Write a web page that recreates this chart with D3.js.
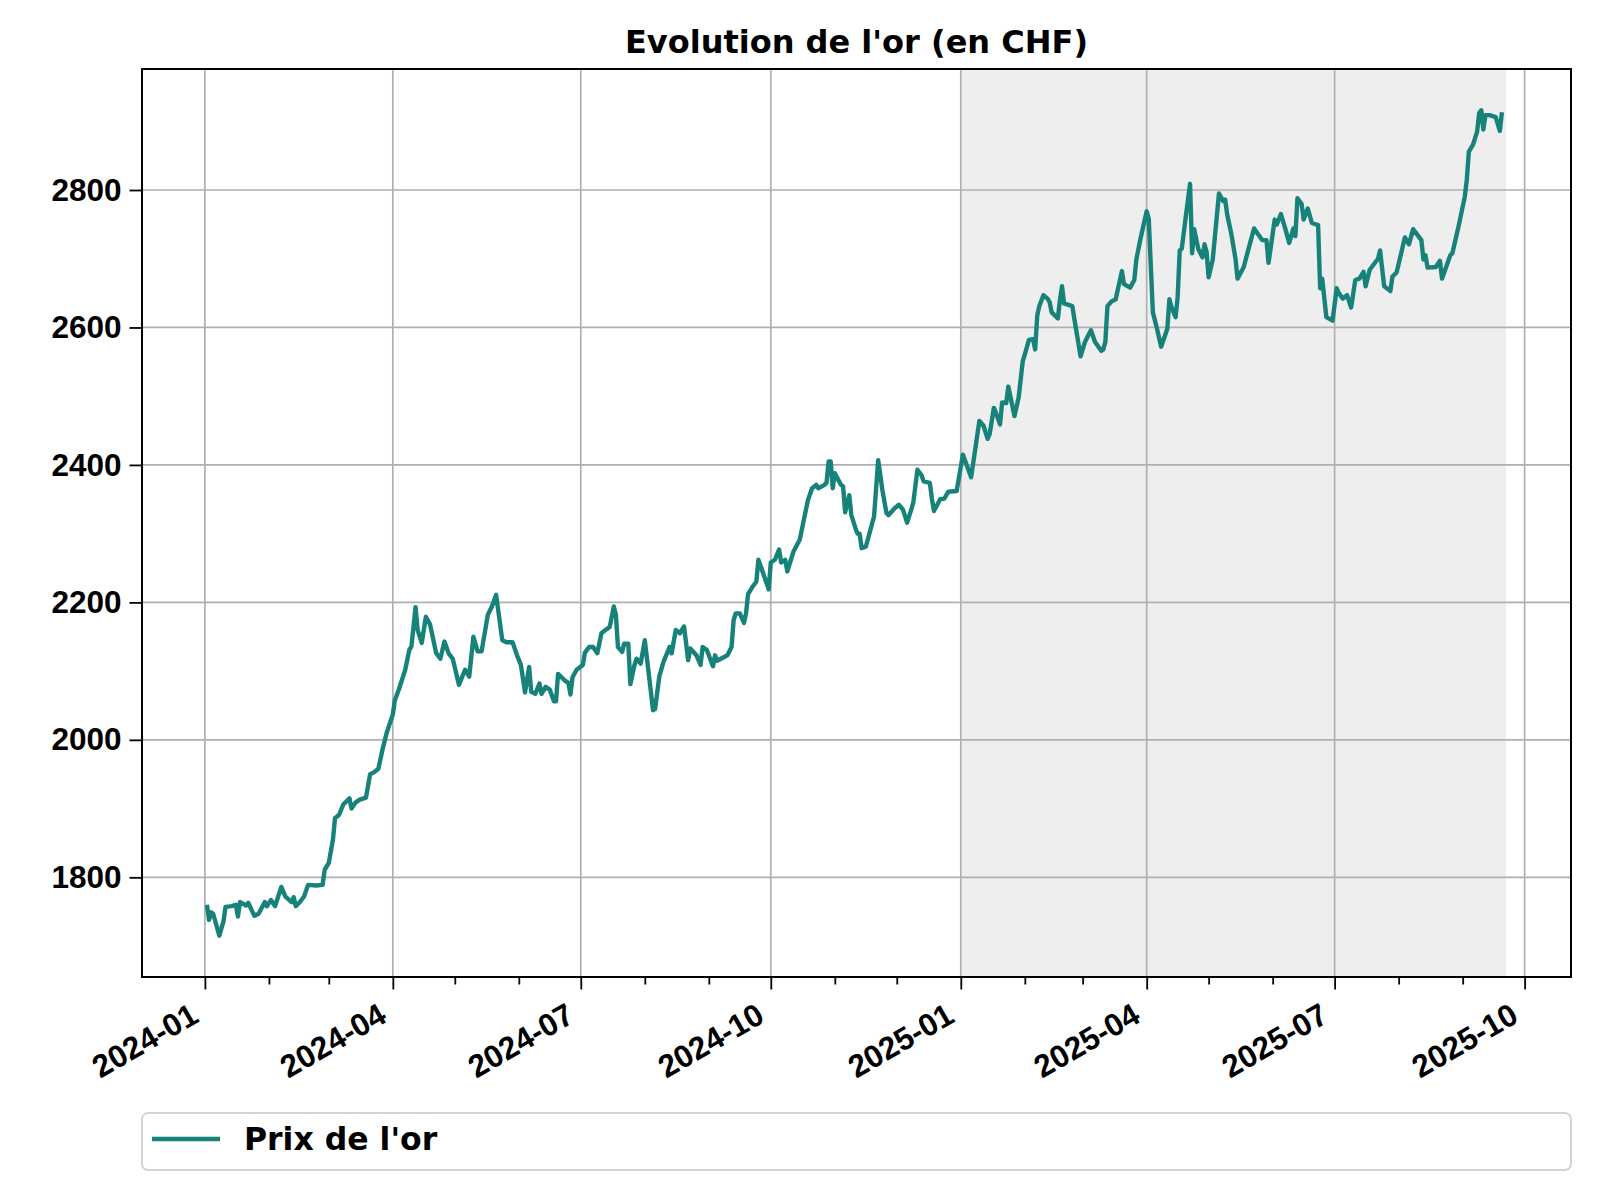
<!DOCTYPE html>
<html>
<head>
<meta charset="utf-8">
<script src="https://cdn.jsdelivr.net/npm/d3@7"></script>
<style>
  body { margin: 0; background: #fff; }
  svg { display: block; font-family: "DejaVu Sans", sans-serif; font-weight: bold; }
</style>
</head>
<body>
<script>
// données
const dates = [
  '2024-01-02','2024-01-03','2024-01-04','2024-01-05','2024-01-08','2024-01-10','2024-01-11','2024-01-14','2024-01-16','2024-01-17',
  '2024-01-18','2024-01-21','2024-01-22','2024-01-24','2024-01-25','2024-01-27','2024-01-30','2024-01-31','2024-02-02','2024-02-04',
  '2024-02-07','2024-02-09','2024-02-12','2024-02-13','2024-02-14','2024-02-16','2024-02-18','2024-02-20','2024-02-24','2024-02-27',
  '2024-02-28','2024-03-01','2024-03-03','2024-03-04','2024-03-06','2024-03-08','2024-03-11','2024-03-12','2024-03-14','2024-03-16',
  '2024-03-19','2024-03-21','2024-03-23','2024-03-25','2024-03-27','2024-03-29','2024-04-01','2024-04-02','2024-04-04','2024-04-07',
  '2024-04-09','2024-04-10','2024-04-12','2024-04-13','2024-04-15','2024-04-17','2024-04-19','2024-04-22','2024-04-24','2024-04-26',
  '2024-04-28','2024-04-30','2024-05-03','2024-05-06','2024-05-08','2024-05-10','2024-05-12','2024-05-14','2024-05-17','2024-05-19',
  '2024-05-21','2024-05-24','2024-05-26','2024-05-29','2024-05-31','2024-06-02','2024-06-04','2024-06-06','2024-06-07','2024-06-09',
  '2024-06-11','2024-06-12','2024-06-14','2024-06-16','2024-06-18','2024-06-19','2024-06-20','2024-06-23','2024-06-25','2024-06-26',
  '2024-06-27','2024-06-29','2024-07-02','2024-07-03','2024-07-05','2024-07-07','2024-07-09','2024-07-11','2024-07-13','2024-07-15',
  '2024-07-17','2024-07-18','2024-07-19','2024-07-21','2024-07-22','2024-07-24','2024-07-25','2024-07-27','2024-07-28','2024-07-30',
  '2024-08-01','2024-08-05','2024-08-06','2024-08-08','2024-08-10','2024-08-13','2024-08-14','2024-08-16','2024-08-18','2024-08-20',
  '2024-08-22','2024-08-23','2024-08-26','2024-08-28','2024-08-29','2024-08-31','2024-09-03','2024-09-04','2024-09-05','2024-09-10',
  '2024-09-12','2024-09-13','2024-09-14','2024-09-16','2024-09-18','2024-09-19','2024-09-20','2024-09-22','2024-09-24','2024-09-25',
  '2024-09-27','2024-09-30','2024-10-01','2024-10-03','2024-10-05','2024-10-06','2024-10-08','2024-10-09','2024-10-12','2024-10-15',
  '2024-10-17','2024-10-19','2024-10-21','2024-10-23','2024-10-24','2024-10-27','2024-10-28','2024-10-29','2024-10-30','2024-10-31',
  '2024-11-01','2024-11-04','2024-11-05','2024-11-06','2024-11-08','2024-11-09','2024-11-11','2024-11-12','2024-11-13','2024-11-14',
  '2024-11-16','2024-11-18','2024-11-20','2024-11-22','2024-11-24','2024-11-26','2024-11-27','2024-11-30','2024-12-02','2024-12-04',
  '2024-12-06','2024-12-08','2024-12-09','2024-12-11','2024-12-13','2024-12-14','2024-12-17','2024-12-18','2024-12-19','2024-12-22',
  '2024-12-24','2024-12-26','2024-12-30','2025-01-02','2025-01-06','2025-01-10','2025-01-12','2025-01-14','2025-01-15','2025-01-17',
  '2025-01-18','2025-01-20','2025-01-21','2025-01-23','2025-01-24','2025-01-27','2025-01-29','2025-01-31','2025-02-01','2025-02-03',
  '2025-02-05','2025-02-06','2025-02-07','2025-02-08','2025-02-10','2025-02-12','2025-02-13','2025-02-14','2025-02-17','2025-02-18',
  '2025-02-19','2025-02-20','2025-02-24','2025-02-25','2025-02-26','2025-02-28','2025-03-02','2025-03-05','2025-03-07','2025-03-10',
  '2025-03-11','2025-03-12','2025-03-13','2025-03-15','2025-03-17','2025-03-20','2025-03-21','2025-03-24','2025-03-26','2025-03-27',
  '2025-03-29','2025-04-01','2025-04-02','2025-04-04','2025-04-06','2025-04-08','2025-04-11','2025-04-12','2025-04-13','2025-04-15',
  '2025-04-16','2025-04-17','2025-04-18','2025-04-20','2025-04-22','2025-04-23','2025-04-24','2025-04-26','2025-04-28','2025-04-29',
  '2025-04-30','2025-05-01','2025-05-03','2025-05-06','2025-05-08','2025-05-09','2025-05-10','2025-05-12','2025-05-14','2025-05-15',
  '2025-05-18','2025-05-21','2025-05-23','2025-05-27','2025-05-29','2025-05-30','2025-06-02','2025-06-03','2025-06-05','2025-06-07',
  '2025-06-09','2025-06-11','2025-06-12','2025-06-13','2025-06-15','2025-06-16','2025-06-18','2025-06-20','2025-06-23','2025-06-24',
  '2025-06-25','2025-06-27','2025-06-30','2025-07-02','2025-07-03','2025-07-05','2025-07-07','2025-07-09','2025-07-11','2025-07-13',
  '2025-07-15','2025-07-16','2025-07-18','2025-07-22','2025-07-23','2025-07-25','2025-07-28','2025-07-29','2025-07-31','2025-08-02',
  '2025-08-04','2025-08-06','2025-08-08','2025-08-10','2025-08-12','2025-08-13','2025-08-14','2025-08-15','2025-08-19','2025-08-21',
  '2025-08-22','2025-08-24','2025-08-26','2025-08-27','2025-08-30','2025-09-02','2025-09-03','2025-09-04','2025-09-06','2025-09-08',
  '2025-09-09','2025-09-10','2025-09-11','2025-09-12','2025-09-14','2025-09-17','2025-09-19','2025-09-20'
];

const prices = [
  1760,1738,1749,1747,1715,1736,1757,1758,1760,1743,
  1764,1759,1763,1750,1744,1747,1764,1758,1767,1758,
  1786,1772,1764,1771,1758,1764,1772,1789,1788,1789,
  1811,1821,1855,1886,1891,1906,1915,1900,1909,1913,
  1916,1950,1953,1958,1986,2010,2037,2058,2074,2102,
  2131,2136,2193,2160,2141,2179,2168,2126,2118,2143,
  2126,2118,2080,2102,2092,2150,2129,2129,2182,2194,
  2211,2145,2142,2142,2124,2109,2069,2106,2070,2067,
  2082,2067,2077,2073,2056,2056,2096,2087,2083,2066,
  2091,2102,2109,2127,2135,2135,2126,2155,2160,2164,
  2194,2182,2135,2128,2140,2140,2081,2109,2118,2111,
  2145,2043,2045,2092,2113,2135,2126,2160,2155,2165,
  2116,2133,2123,2109,2135,2131,2107,2123,2115,2123,
  2135,2174,2184,2184,2170,2184,2212,2222,2230,2262,
  2245,2219,2258,2262,2277,2258,2262,2245,2274,2291,
  2320,2349,2366,2371,2366,2371,2374,2405,2405,2366,
  2388,2371,2369,2331,2356,2327,2308,2300,2300,2279,
  2281,2303,2325,2407,2364,2330,2327,2337,2342,2335,
  2316,2335,2345,2393,2385,2376,2374,2351,2333,2350,
  2351,2361,2362,2415,2382,2464,2457,2438,2445,2483,
  2476,2459,2491,2490,2514,2471,2498,2551,2561,2582,
  2583,2568,2617,2631,2647,2642,2637,2622,2613,2640,
  2660,2635,2631,2612,2594,2558,2578,2596,2579,2566,
  2568,2579,2631,2638,2641,2682,2663,2658,2669,2699,
  2729,2769,2758,2622,2598,2572,2598,2641,2630,2615,
  2644,2712,2715,2763,2809,2708,2743,2714,2702,2721,
  2710,2673,2699,2795,2784,2786,2764,2736,2700,2671,
  2688,2722,2744,2727,2727,2694,2757,2750,2765,2745,
  2723,2744,2733,2788,2780,2757,2773,2752,2749,2657,
  2671,2615,2610,2657,2650,2642,2647,2629,2669,2671,
  2681,2660,2684,2700,2712,2660,2653,2674,2680,2705,
  2731,2721,2743,2735,2727,2699,2705,2687,2688,2697,
  2671,2688,2705,2708,2747,2790,2815,2856,2866,2885,
  2912,2916,2888,2909,2909,2906,2886,2913
];

// zone grisée (2025)
const shadeStart = '2025-01-01';
const shadeEnd = '2025-09-22';

const yTicks = [1800, 2000, 2200, 2400, 2600, 2800];
const chartTitle = "Evolution de l'or (en CHF)";
const seriesName = "Prix de l'or";

const parse = d3.timeParse('%Y-%m-%d');
const data = dates.map((d, i) => ({date: parse(d), value: prices[i]}));

const width = 1600;
const height = 1200;
const margin = {top: 69, right: 29, bottom: 223, left: 142};
const lineColor = '#17827a';
const fontSize = 31.5;

// échelles, avec 5% de marge comme matplotlib
const xMin = data[0].date;
const xMax = parse(shadeEnd);
const xPad = (xMax - xMin) * 0.05;
const x = d3.scaleTime()
  .domain([new Date(+xMin - xPad), new Date(+xMax + xPad)])
  .range([margin.left, width - margin.right]);

const yExt = d3.extent(prices);
const yPad = (yExt[1] - yExt[0]) * 0.05;
const y = d3.scaleLinear()
  .domain([yExt[0] - yPad, yExt[1] + yPad])
  .range([height - margin.bottom, margin.top]);

const svg = d3.select('body')
  .append('svg')
  .attr('width', width)
  .attr('height', height);

// zone grisée
svg.append('rect')
  .attr('x', x(parse(shadeStart)))
  .attr('y', margin.top)
  .attr('width', x(parse(shadeEnd)) - x(parse(shadeStart)))
  .attr('height', height - margin.bottom - margin.top)
  .attr('fill', '#eeeeee');

const majorTicks = x.ticks(d3.timeMonth.every(3));
const minorTicks = x.ticks(d3.timeMonth.every(1)).filter(d => d.getMonth() % 3 !== 0);

// grille
svg.append('g')
  .selectAll('line')
  .data(majorTicks)
  .join('line')
  .attr('x1', d => x(d)).attr('x2', d => x(d))
  .attr('y1', margin.top).attr('y2', height - margin.bottom)
  .attr('stroke', '#b0b0b0')
  .attr('stroke-width', 1.7);

svg.append('g')
  .selectAll('line')
  .data(yTicks)
  .join('line')
  .attr('x1', margin.left).attr('x2', width - margin.right)
  .attr('y1', d => y(d)).attr('y2', d => y(d))
  .attr('stroke', '#b0b0b0')
  .attr('stroke-width', 1.7);

// courbe
const line = d3.line()
  .x(d => x(d.date))
  .y(d => y(d.value));

svg.append('path')
  .datum(data)
  .attr('fill', 'none')
  .attr('stroke', lineColor)
  .attr('stroke-width', 4.4)
  .attr('stroke-linejoin', 'round')
  .attr('d', line);

// cadre
svg.append('rect')
  .attr('x', margin.left)
  .attr('y', margin.top)
  .attr('width', width - margin.left - margin.right)
  .attr('height', height - margin.top - margin.bottom)
  .attr('fill', 'none')
  .attr('stroke', 'black')
  .attr('stroke-width', 2);

// axes
svg.append('g')
  .attr('transform', `translate(0,${height - margin.bottom})`)
  .call(d3.axisBottom(x)
          .tickValues(minorTicks)
          .tickSize(7.5)
          .tickFormat(''))
  .call(g => g.select('.domain').remove())
  .call(g => g.selectAll('line').attr('stroke-width', 1.8));

svg.append('g')
  .attr('transform', `translate(0,${height - margin.bottom})`)
  .call(d3.axisBottom(x)
          .tickValues(majorTicks)
          .tickSize(12.5)
          .tickFormat(d3.timeFormat('%Y-%m')))
  .call(g => g.select('.domain').remove())
  .call(g => g.selectAll('line').attr('stroke-width', 1.8))
  .call(g => g.selectAll('text')
                .attr('y', 0)
                .attr('dy', 0)
                .attr('text-anchor', 'end')
                .attr('transform', 'translate(-5,44) rotate(-30)')
                .style('font-size', fontSize + 'px')
                .style('font-weight', 'bold')
                .attr('fill', 'black'));

svg.append('g')
  .attr('transform', `translate(${margin.left},0)`)
  .call(d3.axisLeft(y)
          .tickValues(yTicks)
          .tickSize(12.5)
          .tickPadding(8)
          .tickFormat(d3.format('d')))
  .call(g => g.select('.domain').remove())
  .call(g => g.selectAll('line').attr('stroke-width', 1.8))
  .call(g => g.selectAll('text')
                .style('font-size', fontSize + 'px')
                .style('font-weight', 'bold')
                .attr('fill', 'black'));

// titre
svg.append('text')
  .attr('x', (margin.left + width - margin.right) / 2)
  .attr('y', 53)
  .attr('text-anchor', 'middle')
  .style('font-size', '32px')
  .text(chartTitle);

// légende sous le graphique
const legend = svg.append('g');
legend.append('rect')
  .attr('x', margin.left)
  .attr('y', 1113)
  .attr('width', width - margin.left - margin.right)
  .attr('height', 57)
  .attr('rx', 6)
  .attr('fill', 'white')
  .attr('stroke', '#d4d4d4')
  .attr('stroke-width', 2);

legend.append('line')
  .attr('x1', 152).attr('x2', 220)
  .attr('y1', 1139).attr('y2', 1139)
  .attr('stroke', lineColor)
  .attr('stroke-width', 4.4);

legend.append('text')
  .attr('x', 244)
  .attr('y', 1150)
  .style('font-size', fontSize + 'px')
  .text(seriesName);
</script>
</body>
</html>
